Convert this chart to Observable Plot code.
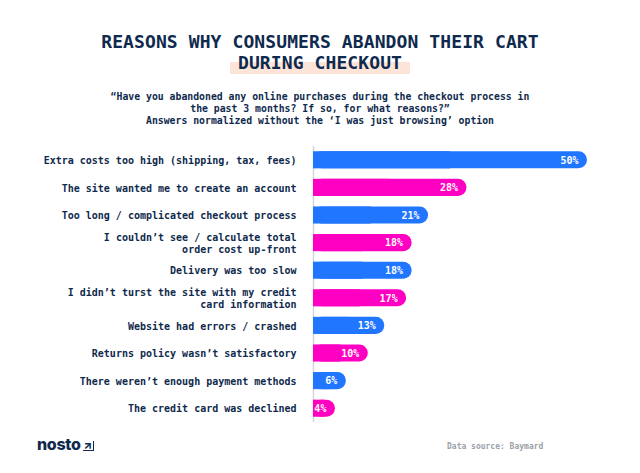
<!DOCTYPE html>
<html>
<head>
<meta charset="utf-8">
<script src="https://cdn.jsdelivr.net/npm/d3@7"></script>
<script src="https://cdn.jsdelivr.net/npm/@observablehq/plot@0.6"></script>
<style>
  html, body { margin: 0; padding: 0; background: #fff; }
  #wrap { position: relative; width: 640px; height: 473px; overflow: hidden; font-family: "DejaVu Sans Mono", "Liberation Mono", monospace; color: #0f2a4d; }
  .title { position: absolute; left: 0; width: 640px; text-align: center; font-weight: bold; font-size: 18px; line-height: 22px; letter-spacing: 0.1px; }
  .hl { background: linear-gradient(to bottom, transparent 45%, #fde4d8 45%, #fde4d8 100%); padding: 0 8px 1px 8px; }
  .sub { position: absolute; left: 0; top: 91px; width: 640px; text-align: center; font-weight: bold; font-size: 9.8px; line-height: 12px; }
  #chart { position: absolute; left: 0; top: 146px; }
  .logo { position: absolute; left: 37px; top: 434px; font-family: "Inter", "DejaVu Sans", sans-serif; font-weight: 800; font-size: 16px; color: #0f2a4d; letter-spacing: -0.3px; }
  .logo span { display: inline-block; font-size: 11px; line-height: 9px; border: 1.6px solid #0f2a4d; border-top: none; border-left: none; margin-left: 2px; padding: 0 1px; vertical-align: 1px; }
  .src { position: absolute; left: 447px; top: 442px; font-size: 8px; color: #9a9fa8; font-weight: bold; }
</style>
</head>
<body>
<div id="wrap">
  <div class="title" style="top:31px">REASONS WHY CONSUMERS ABANDON THEIR CART</div>
  <div class="title" style="top:52px"><span class="hl">DURING CHECKOUT</span></div>
  <div class="sub">“Have you abandoned any online purchases during the checkout process in<br>the past 3 months? If so, for what reasons?”<br>Answers normalized without the ‘I was just browsing’ option</div>
  <div id="chart"></div>
  <div class="logo">nosto<span>↗</span></div>
  <div class="src">Data source: Baymard</div>
</div>
<script>
const reasons = [
  "Extra costs too high (shipping, tax, fees)",
  "The site wanted me to create an account",
  "Too long / complicated checkout process",
  "I couldn’t see / calculate total\norder cost up-front",
  "Delivery was too slow",
  "I didn’t turst the site with my credit\ncard information",
  "Website had errors / crashed",
  "Returns policy wasn’t satisfactory",
  "There weren’t enough payment methods",
  "The credit card was declined"
];
const values = [50, 28, 21, 18, 18, 17, 13, 10, 6, 4];
const groups = ["A", "B", "A", "B", "A", "B", "A", "B", "A", "B"];

const data = reasons.map((r, i) => ({reason: r, value: values[i], group: groups[i]}));

const chart = Plot.plot({
  width: 640,
  height: 276,
  marginLeft: 313,
  marginRight: 53,
  marginTop: 0,
  marginBottom: 0,
  style: {fontFamily: "DejaVu Sans Mono, Liberation Mono, monospace", fontSize: "10px", background: "transparent"},
  x: {domain: [0, 50], axis: null},
  y: {domain: reasons, paddingInner: 0.38, paddingOuter: 0.19, round: false, label: null},
  color: {domain: ["A", "B"], range: ["#2176ff", "#ff00c3"]},
  marks: [
    Plot.ruleX([0], {stroke: "#d4d6da", strokeWidth: 1.5}),
    Plot.barX(data, {y: "reason", x1: 0, x2: "value", fill: "group", rx: 8.5}),
    Plot.barX(data, {y: "reason", x1: 0, x2: d => d.value / 2, fill: "group"}),
    Plot.text(data, {y: "reason", x: "value", text: d => d.value + "%", textAnchor: "end", dx: -9, fill: "#fff", fontWeight: "bold", fontSize: 10}),
    Plot.axisY({tickSize: 0, tickPadding: 17, fontWeight: "bold", fill: "#0f2a4d", fontSize: 10, lineHeight: 1.15, label: null})
  ]
});
document.getElementById("chart").appendChild(chart);
</script>
</body>
</html>
